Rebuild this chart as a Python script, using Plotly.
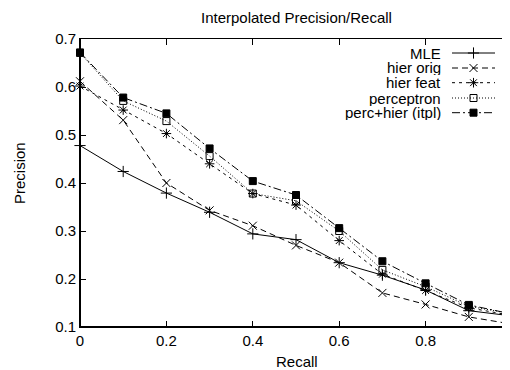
import plotly.graph_objects as go

recall = [0.0, 0.1, 0.2, 0.3, 0.4, 0.5, 0.6, 0.7, 0.8, 0.9, 1.0]
mle = [0.478, 0.424, 0.379, 0.339, 0.294, 0.282, 0.234, 0.208, 0.177, 0.134, 0.123]
hier_orig = [0.612, 0.531, 0.400, 0.343, 0.311, 0.270, 0.234, 0.171, 0.147, 0.121, 0.106]
hier_feat = [0.602, 0.552, 0.503, 0.440, 0.378, 0.354, 0.280, 0.210, 0.176, 0.140, 0.124]
perceptron = [0.671, 0.571, 0.529, 0.456, 0.378, 0.363, 0.300, 0.219, 0.184, 0.143, 0.128]
perc_hier = [0.672, 0.578, 0.545, 0.472, 0.404, 0.375, 0.306, 0.237, 0.191, 0.146, 0.127]

series_names = ["MLE", "hier orig", "hier feat", "perceptron", "perc+hier (itpl)"]
series_vals = [mle, hier_orig, hier_feat, perceptron, perc_hier]
dashes = ["solid", "6px,4px", "3px,4px", "1px,2px", "8px,3px,2px,3px"]
symbols = ["cross-thin-open", "x-thin-open", "asterisk-open", "square-open", "square"]
msizes = [8, 8, 8, 7, 7]

x_ticks = [0, 0.2, 0.4, 0.6, 0.8]
x_tick_text = ["0", "0.2", "0.4", "0.6", "0.8"]
y_ticks = [0.1, 0.2, 0.3, 0.4, 0.5, 0.6, 0.7]
y_tick_text = ["0.1", "0.2", "0.3", "0.4", "0.5", "0.6", "0.7"]

FONT = "Liberation Sans, Arial, sans-serif"
FS = 15
fig = go.Figure()

for name, vals, dash, sym, ms in zip(series_names, series_vals, dashes, symbols, msizes):
    fig.add_trace(go.Scatter(
        x=recall, y=vals, mode="lines+markers", name=name,
        line=dict(color="black", width=1, dash=dash),
        marker=dict(symbol=sym, size=ms, color="black", line=dict(color="black", width=1)),
        cliponaxis=False, showlegend=False,
    ))

# plot area: page x 80..510, y 39..327 (page has 8px body offset)
PW, PH = 430.0, 288.0
def px(x):
    return (x - 80) / PW
def py(y):
    return (327 - y) / PH

# custom gnuplot-style legend on an overlay axis
legend_rows_px = [53, 68, 82.7, 98, 112.7]
for name, dash, sym, ms, rp in zip(series_names, dashes, symbols, msizes, legend_rows_px):
    ry = py(rp)
    fig.add_trace(go.Scatter(
        x=[px(452), px(495)], y=[ry, ry], mode="lines", xaxis="x2", yaxis="y2",
        line=dict(color="black", width=1, dash=dash), showlegend=False, hoverinfo="skip",
    ))
    fig.add_trace(go.Scatter(
        x=[px(473.5)], y=[ry], mode="markers", xaxis="x2", yaxis="y2",
        marker=dict(symbol=sym, size=ms, color="black", line=dict(color="black", width=1)),
        showlegend=False, hoverinfo="skip",
    ))
    fig.add_annotation(x=px(443), y=ry, xref="paper", yref="paper", text=name,
                       showarrow=False, xanchor="right", yanchor="middle",
                       height=15, valign="middle",
                       font=dict(size=FS, color="black", family=FONT))

fig.add_annotation(x=px(296), y=py(17), xref="paper", yref="paper",
                   text="Interpolated Precision/Recall", showarrow=False,
                   xanchor="center", yanchor="middle", font=dict(size=FS, color="black", family=FONT))
fig.add_annotation(x=px(296.5), y=py(361), xref="paper", yref="paper",
                   text="Recall", showarrow=False,
                   xanchor="center", yanchor="middle", font=dict(size=FS, color="black", family=FONT))
fig.add_annotation(x=px(19), y=py(173), xref="paper", yref="paper",
                   text="Precision", showarrow=False, textangle=-90,
                   xanchor="center", yanchor="middle", font=dict(size=FS, color="black", family=FONT))

# thicker left and bottom border
fig.add_shape(type="line", xref="paper", yref="paper", x0=0, x1=0, y0=0, y1=1,
              line=dict(color="black", width=2))
fig.add_shape(type="line", xref="paper", yref="paper", x0=0, x1=1, y0=0, y1=0,
              line=dict(color="black", width=2))

fig.update_layout(
    width=502, height=362,
    margin=dict(l=72, r=0, t=31, b=43),
    paper_bgcolor="white", plot_bgcolor="white",
    font=dict(family=FONT, size=FS, color="black"),
    xaxis=dict(range=[0, 430 / 432], tickvals=x_ticks, ticktext=x_tick_text,
               showgrid=False, zeroline=False, showline=True, linecolor="black", linewidth=1,
               mirror="ticks", ticks="inside", ticklen=6, tickcolor="black",
               tickfont=dict(size=FS, family=FONT, color="black")),
    yaxis=dict(range=[0.1, 0.7], tickvals=y_ticks, ticktext=y_tick_text,
               showgrid=False, zeroline=False, showline=True, linecolor="black", linewidth=1,
               mirror="ticks", ticks="inside", ticklen=6, tickcolor="black",
               tickfont=dict(size=FS, family=FONT, color="black")),
    xaxis2=dict(overlaying="x", range=[0, 1], visible=False, fixedrange=True),
    yaxis2=dict(overlaying="y", range=[0, 1], visible=False, fixedrange=True),
    showlegend=False,
)

fig.write_html("out.html")
